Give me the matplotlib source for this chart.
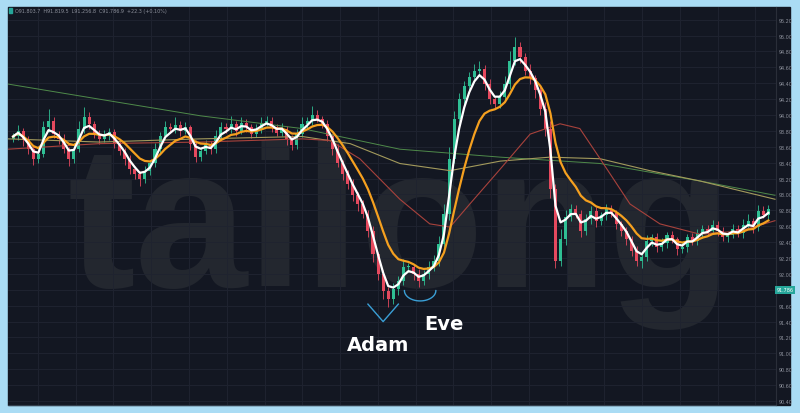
import numpy as np
import pandas as pd
import matplotlib
matplotlib.use("Agg")
import matplotlib.pyplot as plt
from matplotlib.patches import Rectangle

# closing prices, one per candle
closes = [
    93.73, 93.80, 93.68, 93.57, 93.45, 93.51, 93.85, 93.93, 93.76, 93.70,
    93.57, 93.45, 93.57, 93.83, 93.98, 93.89, 93.76, 93.70, 93.73, 93.79,
    93.64, 93.55, 93.45, 93.32, 93.26, 93.20, 93.30, 93.39, 93.57, 93.73,
    93.85, 93.83, 93.88, 93.80, 93.85, 93.64, 93.47, 93.55, 93.62, 93.57,
    93.73, 93.85, 93.83, 93.89, 93.80, 93.90, 93.85, 93.76, 93.83, 93.90,
    93.93, 93.85, 93.78, 93.83, 93.70, 93.62, 93.76, 93.89, 93.93, 94.00,
    93.95, 93.89, 93.73, 93.57, 93.39, 93.26, 93.13, 92.99, 92.88, 92.76,
    92.54, 92.25, 92.00, 91.79, 91.68, 91.81, 91.91, 92.09, 92.09, 92.00,
    91.91, 92.00, 92.09, 92.16, 92.38, 92.76, 93.45, 93.95, 94.20, 94.36,
    94.48, 94.56, 94.58, 94.39, 94.20, 94.14, 94.23, 94.39, 94.68, 94.86,
    94.73, 94.56, 94.46, 94.31, 94.08, 93.83, 93.07, 92.16, 92.44, 92.72,
    92.82, 92.76, 92.54, 92.69, 92.79, 92.66, 92.74, 92.82, 92.77, 92.63,
    92.54, 92.44, 92.29, 92.16, 92.21, 92.41, 92.46, 92.34, 92.39, 92.49,
    92.44, 92.31, 92.34, 92.46, 92.41, 92.51, 92.57, 92.54, 92.62, 92.54,
    92.46, 92.49, 92.57, 92.51, 92.62, 92.66, 92.59, 92.79, 92.74, 92.82,
]
first_open = 93.70

up_wick = [
    0.05, 0.08, 0.04, 0.06, 0.03, 0.10, 0.07, 0.14, 0.05, 0.04,
    0.06, 0.03, 0.05, 0.09, 0.12, 0.06, 0.04, 0.05, 0.08, 0.05,
    0.04, 0.06, 0.03, 0.05, 0.04, 0.03, 0.06, 0.05, 0.08, 0.06,
    0.07, 0.05, 0.09, 0.04, 0.06, 0.03, 0.05, 0.04, 0.06, 0.05,
    0.08, 0.06, 0.05, 0.10, 0.04, 0.07, 0.05, 0.04, 0.06, 0.08,
    0.06, 0.05, 0.04, 0.07, 0.03, 0.05, 0.06, 0.08, 0.05, 0.12,
    0.06, 0.04, 0.05, 0.03, 0.06, 0.04, 0.05, 0.07, 0.04, 0.05,
    0.04, 0.06, 0.03, 0.05, 0.04, 0.08, 0.06, 0.10, 0.05, 0.04,
    0.06, 0.05, 0.07, 0.08, 0.10, 0.12, 0.15, 0.10, 0.08, 0.07,
    0.06, 0.08, 0.10, 0.05, 0.06, 0.04, 0.07, 0.10, 0.12, 0.12,
    0.06, 0.05, 0.08, 0.05, 0.06, 0.08, 0.10, 0.06, 0.12, 0.08,
    0.06, 0.05, 0.04, 0.07, 0.06, 0.05, 0.04, 0.06, 0.05, 0.04,
    0.03, 0.05, 0.04, 0.06, 0.05, 0.08, 0.04, 0.05, 0.06, 0.04,
    0.05, 0.03, 0.06, 0.04, 0.05, 0.06, 0.04, 0.05, 0.06, 0.04,
    0.05, 0.04, 0.06, 0.05, 0.07, 0.10, 0.05, 0.08, 0.06, 0.05,
]
down_wick = [
    0.04, 0.05, 0.07, 0.06, 0.08, 0.05, 0.04, 0.06, 0.05, 0.07,
    0.05, 0.09, 0.06, 0.04, 0.05, 0.06, 0.05, 0.07, 0.04, 0.05,
    0.06, 0.05, 0.08, 0.06, 0.07, 0.09, 0.05, 0.06, 0.04, 0.05,
    0.04, 0.06, 0.05, 0.07, 0.04, 0.08, 0.06, 0.05, 0.04, 0.06,
    0.05, 0.04, 0.06, 0.05, 0.07, 0.04, 0.06, 0.05, 0.04, 0.05,
    0.04, 0.06, 0.05, 0.04, 0.08, 0.06, 0.05, 0.04, 0.06, 0.05,
    0.04, 0.05, 0.06, 0.07, 0.05, 0.08, 0.06, 0.07, 0.09, 0.06,
    0.08, 0.10, 0.08, 0.10, 0.10, 0.06, 0.08, 0.05, 0.06, 0.08,
    0.07, 0.05, 0.06, 0.05, 0.06, 0.05, 0.08, 0.06, 0.05, 0.07,
    0.05, 0.06, 0.05, 0.08, 0.06, 0.07, 0.05, 0.04, 0.06, 0.05,
    0.08, 0.06, 0.07, 0.09, 0.08, 0.10, 0.12, 0.08, 0.06, 0.07,
    0.05, 0.06, 0.08, 0.05, 0.06, 0.07, 0.05, 0.06, 0.05, 0.07,
    0.06, 0.08, 0.07, 0.06, 0.08, 0.05, 0.06, 0.07, 0.05, 0.06,
    0.05, 0.07, 0.05, 0.06, 0.05, 0.04, 0.06, 0.05, 0.04, 0.06,
    0.05, 0.06, 0.04, 0.05, 0.06, 0.04, 0.07, 0.05, 0.04, 0.05,
]

# slower averages, read at a few candle positions
red_x = [-1, 17, 37, 57, 62.5, 68.4, 76.3, 82.2, 86.2, 90.1, 96.1, 102, 107.9,
         111.8, 115.8, 121.7, 127.6, 135.5, 143.4, 150.3]
red_y = [93.57, 93.64, 93.66, 93.70, 93.68, 93.45, 92.94, 92.63, 92.59, 92.88,
         93.32, 93.76, 93.89, 93.83, 93.45, 92.88, 92.63, 92.50, 92.54, 92.67]
olive_x = [-1, 17, 37, 57, 66.5, 76.3, 86.2, 96.1, 105.9, 115.8, 125.6, 135.5, 150.3]
olive_y = [93.70, 93.66, 93.70, 93.73, 93.64, 93.39, 93.30, 93.42, 93.47, 93.45,
           93.30, 93.17, 92.94]
green_x = [-1, 17, 37, 57, 76.3, 96.1, 115.8, 135.5, 150.3]
green_y = [94.39, 94.20, 93.99, 93.83, 93.57, 93.47, 93.39, 93.17, 92.99]

price_ticks = np.round(np.arange(90.4, 95.21, 0.2), 2)
last_price = 91.80
last_label = "91.786"
legend_text = "O91.803.7  H91.819.5  L91.256.8  C91.786.9  +22.3 (+0.10%)"

close_s = pd.Series(closes)
opens = [first_open] + closes[:-1]
highs = [max(o, c) + w for o, c, w in zip(opens, closes, up_wick)]
lows = [min(o, c) - w for o, c, w in zip(opens, closes, down_wick)]
fast = close_s.ewm(span=3).mean()
mid = close_s.ewm(span=9).mean()

BG = "#131722"
fig = plt.figure(figsize=(8, 4.14), dpi=100, facecolor="#aadcf4")
fig.patches.append(Rectangle((8 / 800, 8 / 414), 782 / 800, 398 / 414,
                             transform=fig.transFigure, color=BG, zorder=-2))
fig.text(0.5, (414 - 287) / 414, "tailong", ha="center", va="baseline",
         fontsize=146, fontweight="bold", family="Liberation Sans",
         color="#23272f", zorder=-1)

ax = fig.add_axes([8 / 800, 8 / 414, 768 / 800, 398 / 414])
ax.patch.set_alpha(0)
ax.set_zorder(2)

ax.set_xlim(-1, 150.5)
ax.set_ylim(90.35, 95.36)
for xv in np.arange(4.9, 151, 7.45):
    ax.axvline(xv, color="#1f2330", lw=0.7, zorder=0)
for yv in price_ticks:
    ax.axhline(yv, color="#1f2330", lw=0.7, zorder=0)

x = np.arange(len(closes))
for i in x:
    o, c = opens[i], closes[i]
    col = "#2fbf94" if c >= o else "#e5495e"
    ax.vlines(i, lows[i], highs[i], color=col, lw=0.6, zorder=3)
    ax.add_patch(Rectangle((i - 0.3, min(o, c)), 0.6, max(abs(c - o), 0.01),
                           color=col, lw=0, zorder=3))

ax.plot(green_x, green_y, color="#4f8a4a", lw=0.7, zorder=4)
ax.plot(olive_x, olive_y, color="#a39a5c", lw=0.8, zorder=4)
ax.plot(red_x, red_y, color="#a8423c", lw=0.8, zorder=4)
ax.plot(x, mid, color="#f5a01f", lw=1.6, zorder=5)
ax.plot(x, fast, color="white", lw=1.6, zorder=6)

# Adam / Eve marks
adam = int(np.argmin(lows)) - 1
ax.plot([adam - 3, adam, adam + 3], [91.62, 91.40, 91.62], color="#3a9fd6", lw=1.0, zorder=6)
t = np.linspace(0, np.pi, 30)
ax.plot(80.3 - 3.1 * np.cos(t), 91.79 - 0.13 * np.sin(t), color="#3a9fd6", lw=1.0, zorder=6)
ax.text(adam - 1, 91.11, "Adam", color="white", fontsize=14, fontweight="bold",
        ha="center", va="center", zorder=7)
ax.text(85.0, 91.38, "Eve", color="white", fontsize=14, fontweight="bold",
        ha="center", va="center", zorder=7)

ax.yaxis.tick_right()
ax.set_yticks(price_ticks)
ax.set_yticklabels(["" if abs(v - last_price) < 0.01 else f"{v:.2f}" for v in price_ticks])
ax.tick_params(axis="y", length=0, pad=2, labelsize=3.5, colors="#8b8f9a")
ax.set_xticks([])
for s in ["top", "left"]:
    ax.spines[s].set_visible(False)
ax.spines["right"].set_color("#2a2e39")
ax.spines["bottom"].set_color("#34404e")
ax.text(1.001, last_price, last_label, transform=ax.get_yaxis_transform(), fontsize=3.5,
        color="white", va="center", ha="left",
        bbox=dict(boxstyle="square,pad=0.35", fc="#26a69a", ec="none"), zorder=8)

fig.patches.append(Rectangle((9 / 800, (414 - 14) / 414), 3 / 800, 5 / 414,
                             transform=fig.transFigure, color="#26a69a", zorder=2))
fig.text(15 / 800, (414 - 12) / 414, legend_text, fontsize=3.5, color="#8b8f9a",
         va="center", ha="left")

fig.savefig("out.png", dpi=100, facecolor=fig.get_facecolor())
